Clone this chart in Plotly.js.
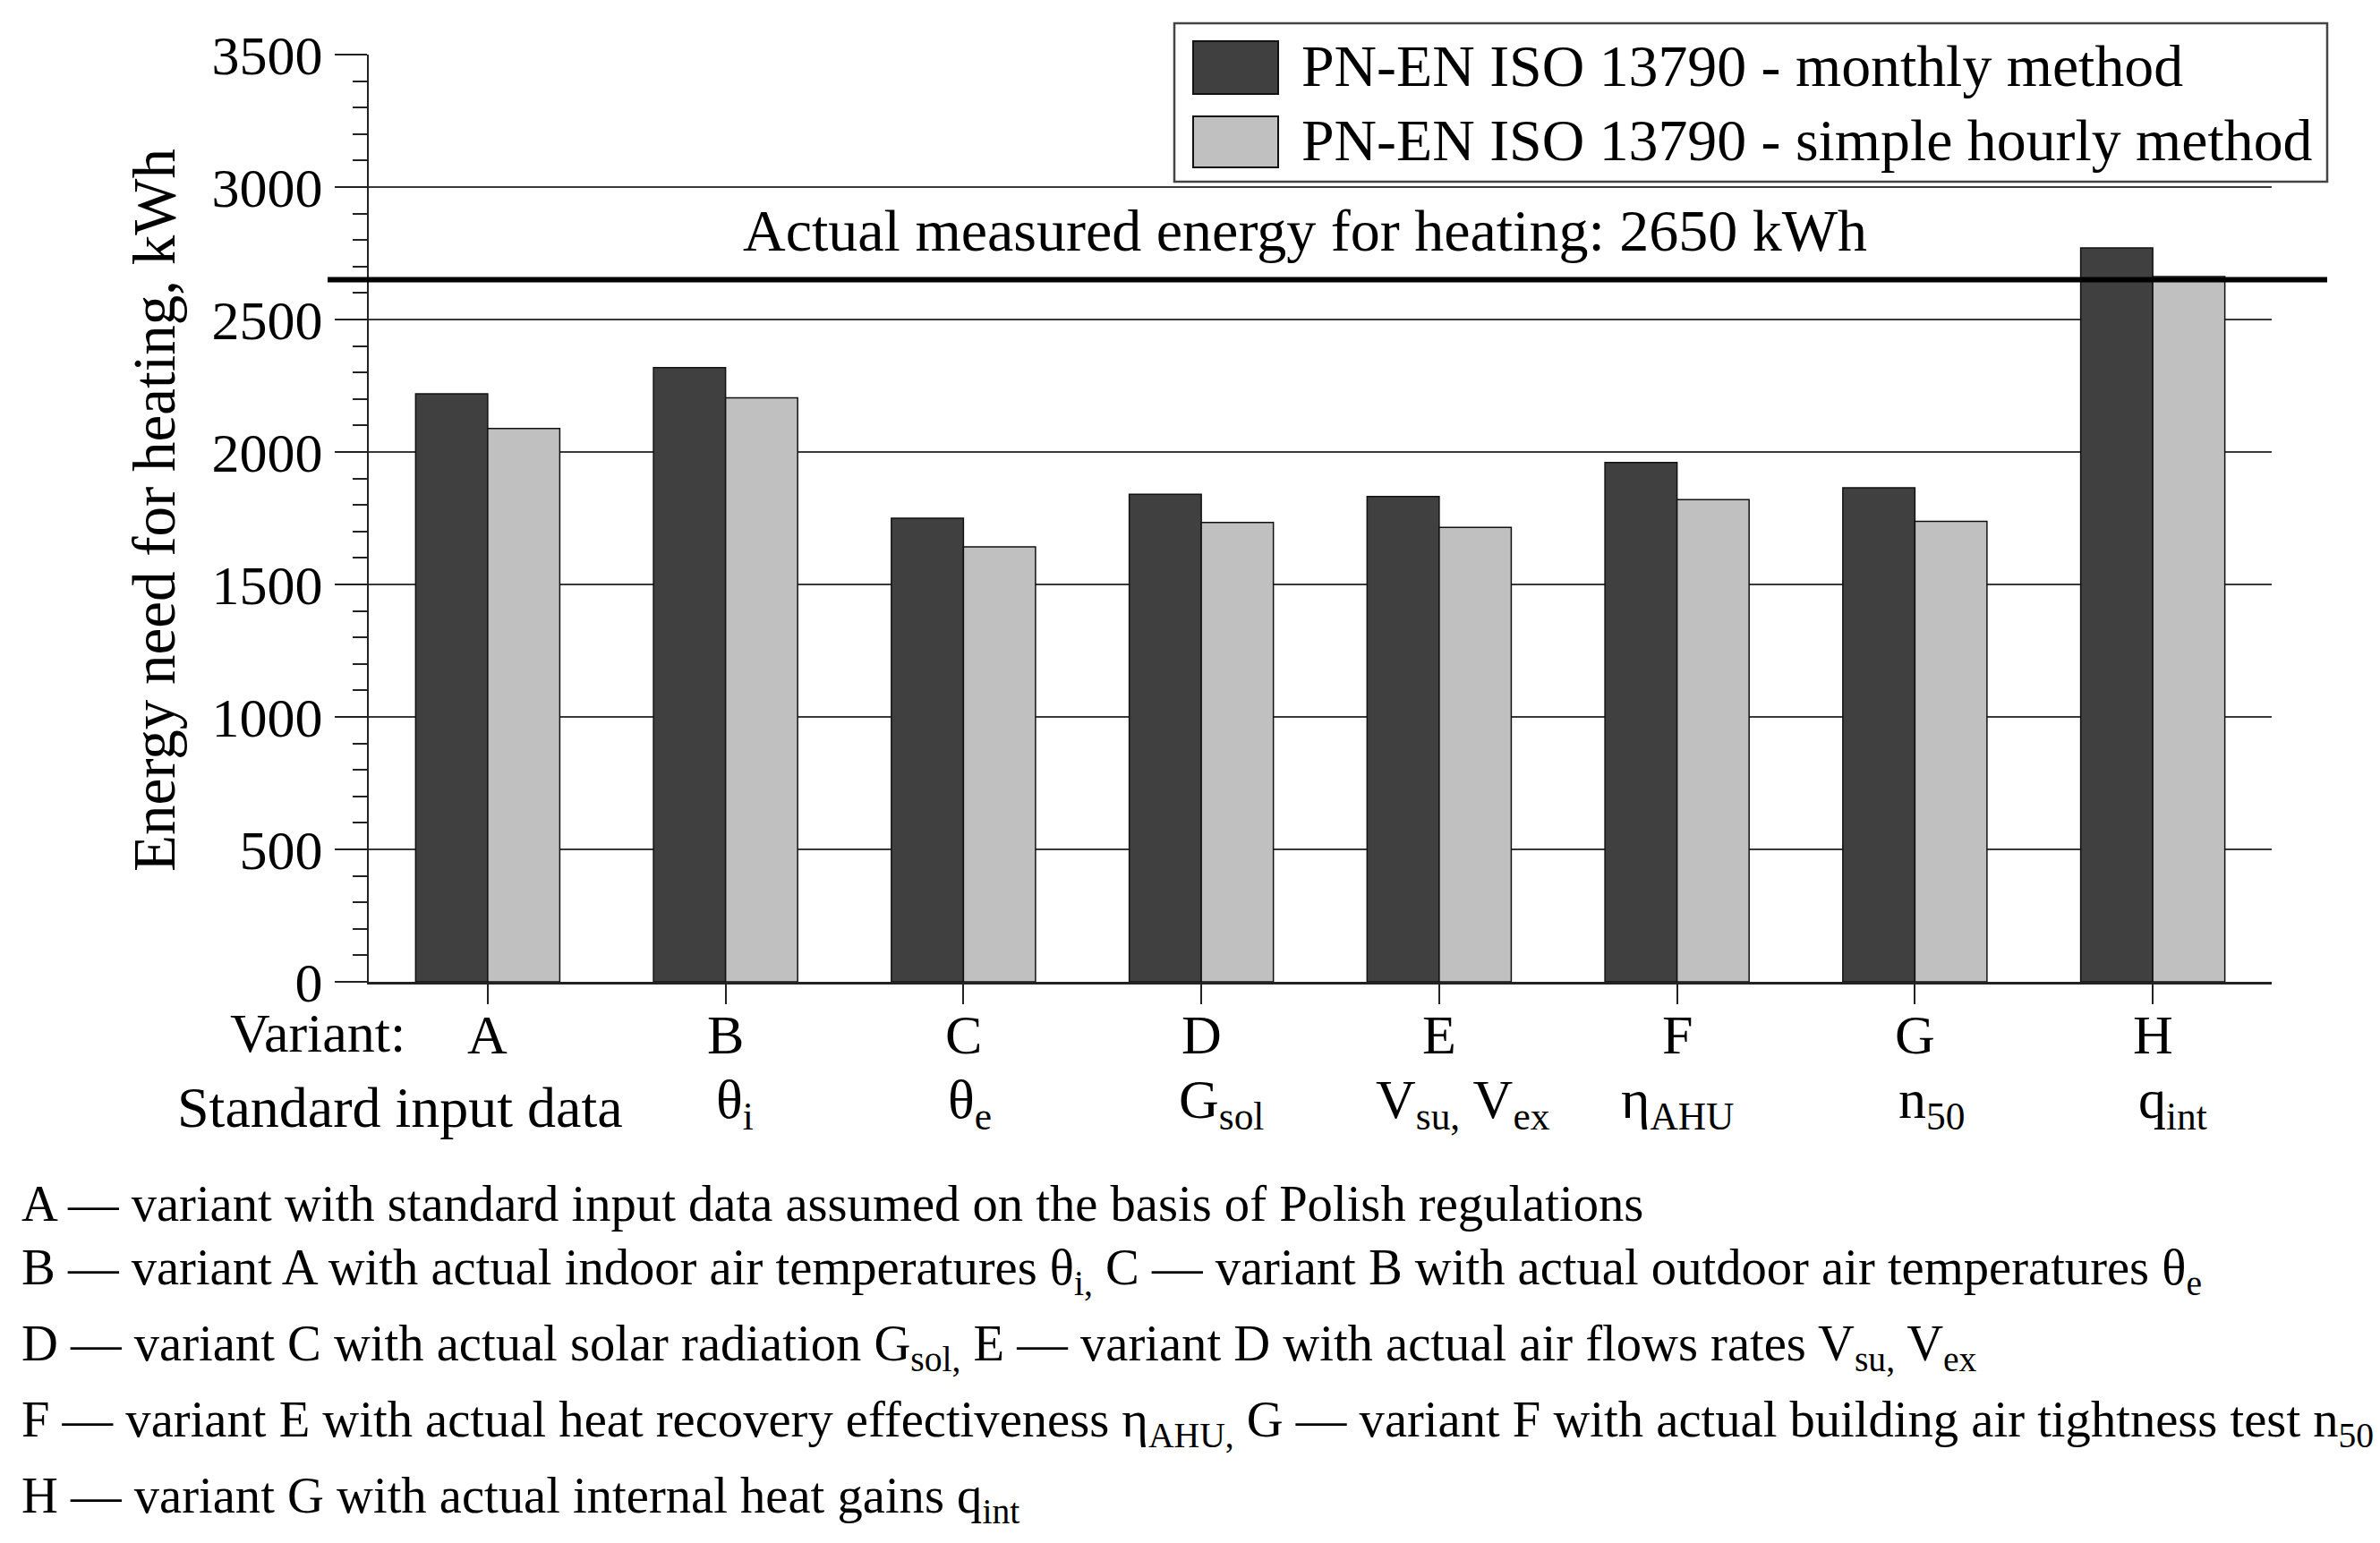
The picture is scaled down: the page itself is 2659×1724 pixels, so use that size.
<!DOCTYPE html>
<html>
<head>
<meta charset="utf-8">
<script src="https://cdn.plot.ly/plotly-3.0.1.min.js"></script>
<style>
html,body{margin:0;padding:0;background:#fff;}
#chart{width:2659px;height:1724px;}
</style>
</head>
<body>
<div id="chart"></div>
<script>
// ---------- data ----------
const categories = ['A', 'B', 'C', 'D', 'E', 'F', 'G', 'H'];
const monthlyValues = [2220, 2318, 1750, 1840, 1832, 1960, 1865, 2770];
const hourlyValues  = [2089, 2204, 1642, 1734, 1715, 1820, 1738, 2662];
const seriesNames = ['PN-EN ISO 13790 - monthly method', 'PN-EN ISO 13790 - simple hourly method'];
const measuredEnergy = 2650;
const measuredLabel = 'Actual measured energy for heating: 2650 kWh';
const inputDataLabels = ['', 'θ<sub>i</sub>', 'θ<sub>e</sub>', 'G<sub>sol</sub>', 'V<sub>su,</sub> V<sub>ex</sub>', 'η<sub>AHU</sub>', 'n<sub>50</sub>', 'q<sub>int</sub>'];
const yTickVals = [0, 500, 1000, 1500, 2000, 2500, 3000, 3500];
const gridVals = [500, 1000, 1500, 2000, 2500, 3000];
const yTitle = 'Energy need for heating, kWh';
const rowTitles = ['Variant:', 'Standard input data'];
const footnotes = [
  'A — variant with standard input data assumed on the basis of Polish regulations',
  'B — variant A with actual indoor air temperatures θ<sub>i,</sub> C — variant B with actual outdoor air temperatures θ<sub>e</sub>',
  'D — variant C with actual solar radiation G<sub>sol,</sub> E — variant D with actual air flows rates V<sub>su,</sub> V<sub>ex</sub>',
  'F — variant E with actual heat recovery effectiveness η<sub>AHU,</sub> G — variant F with actual building air tightness test n<sub>50</sub>',
  'H — variant G with actual internal heat gains q<sub>int</sub>'
];

// ---------- styling / geometry ----------
const W = 2659, H = 1724;
const PL = 412, PR = 2538, PT = 61, PB = 1097;
const px = x => (x - PL) / (PR - PL);
const py = y => (PB - y) / (PB - PT);
const FONT = 'Liberation Serif, Times New Roman, serif';
const seriesColors = ['#404040', '#c0c0c0'];
const labelShift = [0, 10, 7, 22, 27, 0, 19, 22];
const footTops = [1312, 1383, 1468, 1553, 1638];

const traces = [
  {type: 'bar', x: categories, y: monthlyValues, name: seriesNames[0],
   marker: {color: seriesColors[0], line: {color: '#111', width: 1.5}}},
  {type: 'bar', x: categories, y: hourlyValues, name: seriesNames[1],
   marker: {color: seriesColors[1], line: {color: '#111', width: 1.5}}}
];

const shapes = [];
gridVals.forEach(v => shapes.push({type: 'line', xref: 'paper', yref: 'y', x0: 0, x1: 1, y0: v, y1: v,
  layer: 'below', line: {color: '#3a3a3a', width: 2}}));
shapes.push({type: 'line', xref: 'paper', yref: 'y', x0: px(366), x1: px(2600), y0: measuredEnergy, y1: measuredEnergy,
  layer: 'above', line: {color: '#000', width: 6}});
// legend box + swatches
shapes.push({type: 'rect', xref: 'paper', yref: 'paper', x0: px(1312), x1: px(2600), y0: py(26), y1: py(203),
  fillcolor: '#fff', line: {color: '#444', width: 2.5}, layer: 'above'});
const swatchY = [[46, 105], [130, 187]];
seriesColors.forEach((c, i) => shapes.push({type: 'rect', xref: 'paper', yref: 'paper',
  x0: px(1333), x1: px(1428), y0: py(swatchY[i][0]), y1: py(swatchY[i][1]),
  fillcolor: c, line: {color: '#111', width: 2}, layer: 'above'}));

const annotations = [];
const legendTops = [35, 118];
seriesNames.forEach((n, i) => annotations.push({xref: 'paper', yref: 'paper', x: px(1452), y: py(legendTops[i]),
  xanchor: 'left', yanchor: 'top', text: n, showarrow: false, font: {family: FONT, size: 65.8, color: '#000'}}));
annotations.push({xref: 'paper', yref: 'paper', x: px(1458), y: py(219), xanchor: 'center', yanchor: 'top',
  text: measuredLabel, showarrow: false, font: {family: FONT, size: 66, color: '#000'}});
annotations.push({xref: 'paper', yref: 'paper', x: px(172), y: py(570), xanchor: 'center', yanchor: 'middle',
  textangle: -90, text: yTitle, showarrow: false, font: {family: FONT, size: 67, color: '#000'}});
categories.forEach((c, i) => {
  annotations.push({xref: 'x', yref: 'paper', x: c, y: py(1120), xanchor: 'center', yanchor: 'top',
    text: c, showarrow: false, font: {family: FONT, size: 62, color: '#000'}});
  if (inputDataLabels[i]) annotations.push({xref: 'x', yref: 'paper', x: c, y: py(1192), xanchor: 'center', yanchor: 'top',
    xshift: labelShift[i], text: inputDataLabels[i], showarrow: false, font: {family: FONT, size: 62, color: '#000'}});
});
annotations.push({xref: 'paper', yref: 'paper', x: px(455), y: py(1118), xanchor: 'right', yanchor: 'top',
  text: rowTitles[0], showarrow: false, font: {family: FONT, size: 62, color: '#000'}});
annotations.push({xref: 'paper', yref: 'paper', x: px(447), y: py(1200), xanchor: 'center', yanchor: 'top',
  text: rowTitles[1], showarrow: false, font: {family: FONT, size: 64, color: '#000'}});
footnotes.forEach((t, i) => annotations.push({xref: 'paper', yref: 'paper', x: px(22), y: py(footTops[i]),
  xanchor: 'left', yanchor: 'top', text: t, showarrow: false, font: {family: FONT, size: 56.6, color: '#000'}}));

const layout = {
  width: W, height: H,
  margin: {l: PL, r: W - PR, t: PT, b: H - PB, pad: 0},
  paper_bgcolor: '#fff', plot_bgcolor: '#fff',
  showlegend: false,
  barmode: 'group', bargap: 0.394, bargroupgap: 0,
  font: {family: FONT, size: 62, color: '#000'},
  xaxis: {type: 'category', categoryarray: categories, range: [-0.5, 7.5],
    showline: true, linecolor: '#222', linewidth: 3,
    ticks: 'outside', ticklen: 22, tickwidth: 2, tickcolor: '#222',
    showticklabels: false, showgrid: false, zeroline: false, fixedrange: true},
  yaxis: {range: [0, 3500], tickvals: yTickVals, ticktext: yTickVals.map(String),
    showline: true, linecolor: '#222', linewidth: 2,
    ticks: 'outside', ticklen: 36, tickwidth: 2, tickcolor: '#222',
    ticklabelstandoff: 1,
    minor: {dtick: 100, ticks: 'outside', ticklen: 16, tickwidth: 2, tickcolor: '#222', showgrid: false},
    showgrid: false, zeroline: false,
    tickfont: {family: FONT, size: 62, color: '#000'}, fixedrange: true},
  shapes: shapes,
  annotations: annotations
};

Plotly.newPlot('chart', traces, layout, {staticPlot: true, displayModeBar: false});
</script>
</body>
</html>
